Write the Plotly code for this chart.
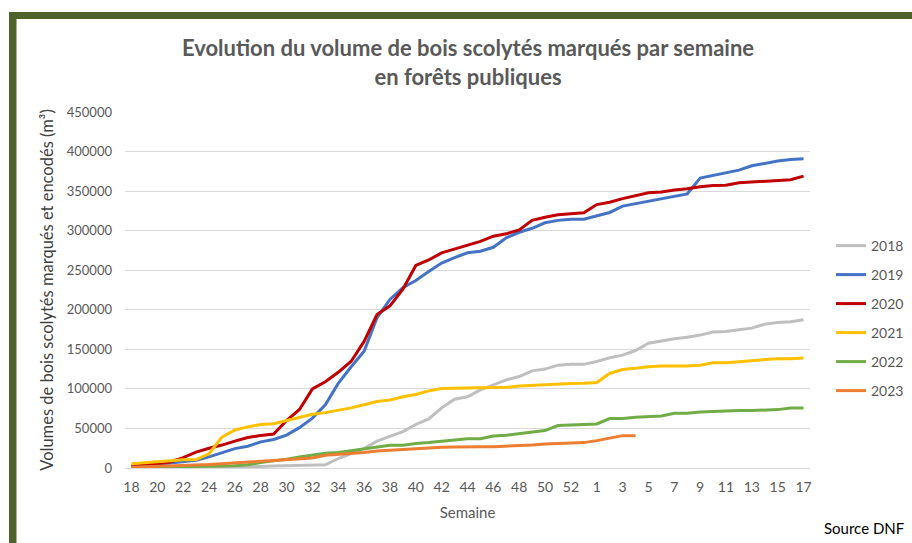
import plotly.graph_objects as go

weeks = [str(w) for w in list(range(18, 54)) + list(range(1, 18))]

y2018 = [200, 300, 400, 500, 600, 800, 1000, 1200, 1500, 1800, 2000, 2500, 3000, 3300, 3600, 4000,
         12000, 18000, 24500, 34000, 40000, 46000, 55000, 62000, 76000, 87000, 90000, 98700, 105000,
         111400, 115600, 122800, 125000, 130000, 131000, 131000, 134600, 139300, 142700, 148500,
         157800, 160800, 163300, 165400, 168000, 171800, 172600, 174700, 176800, 181900, 184000,
         184800, 187400]
y2019 = [2500, 3400, 4700, 6300, 7600, 9700, 14000, 19500, 24500, 27500, 33000, 36000, 41500, 51000,
         63000, 80000, 107000, 128000, 147500, 190000, 213000, 228000, 237000, 248500, 259000, 266000,
         272000, 274000, 279000, 291000, 298000, 303000, 310000, 313000, 314500, 314500, 319000,
         323000, 331000, 334000, 337000, 340000, 343000, 346500, 366500, 370000, 373000, 376500,
         382000, 385000, 388000, 390000, 391000]
y2020 = [2000, 4600, 5500, 7600, 13000, 20000, 25000, 29000, 34000, 38500, 41000, 43000, 60000, 74000,
         100000, 109000, 121000, 135000, 160000, 194000, 205000, 226000, 256000, 263000, 272000,
         277000, 282000, 286500, 293000, 296000, 301000, 313000, 317000, 320000, 321500, 322500,
         333000, 336000, 340500, 344000, 348000, 349000, 351500, 353000, 355500, 357000, 357500,
         360500, 361500, 362500, 363500, 364500, 369000]
y2021 = [5500, 6800, 8500, 9700, 10500, 10600, 18000, 39000, 48000, 52000, 55000, 56000, 60000, 64000,
         68000, 70000, 73000, 76000, 80000, 84000, 86000, 90000, 93000, 97500, 100500, 100800, 102000,
         102000, 102000, 102000, 103500, 104500, 105000, 106000, 106800, 107000, 108000, 119500,
         124500, 126000, 128000, 129000, 129000, 129000, 130000, 133000, 133000, 134000, 135500,
         137000, 138000, 138000, 139000]
y2022 = [500, 800, 1000, 1200, 1500, 1800, 2000, 2500, 3000, 4000, 7000, 9000, 11000, 14000, 16000,
         18600, 19500, 21600, 24000, 26700, 28800, 28800, 31000, 32200, 34000, 35400, 37100, 37100,
         40500, 41400, 43500, 44700, 47300, 53600, 54000, 54900, 55700, 62500, 62500, 64100, 65000,
         65800, 69200, 69200, 70900, 71700, 71700, 72600, 72600, 73400, 73800, 75900, 75900]
y2023 = [1000, 1500, 2000, 2500, 3000, 3400, 4500, 5500, 6500, 7500, 9000, 10000, 11000, 12000, 12700,
         16000, 17000, 18200, 19500, 21600, 22500, 23700, 24600, 25800, 26200, 26500, 27000, 27000,
         27000, 27800, 27800, 29100, 30400, 31200, 31600, 32100, 34600, 38000, 40900, 40900]

series = [("2018", y2018, "#BFBFBF"), ("2019", y2019, "#4472C4"), ("2020", y2020, "#C00000"),
          ("2021", y2021, "#FFC000"), ("2022", y2022, "#70AD47"), ("2023", y2023, "#ED7D31")]

FONT = "Lato, 'Open Sans', sans-serif"

fig = go.Figure()
for name, vals, col in series:
    fig.add_trace(go.Scatter(x=weeks[:len(vals)], y=vals, mode="lines", name=name,
                             legendgroup=name,
                             line=dict(color=col, width=3)))

W, H = 912, 543
L, R, T, B = 125, 810, 112, 468
pw, ph = R - L, B - T

def px(x):
    return (x - L) / pw

def py(y):
    return (B - y) / ph

frame = "#4F6228"
shapes = [
    dict(type="rect", xref="paper", yref="paper", x0=px(9), x1=px(913), y0=py(12), y1=py(19),
         fillcolor=frame, line_width=0, layer="above"),
    dict(type="rect", xref="paper", yref="paper", x0=px(9), x1=px(16.5), y0=py(12), y1=py(545),
         fillcolor=frame, line_width=0, layer="above"),
]

fig.update_layout(
    width=W, height=H,
    margin=dict(l=L, r=W - R, t=T, b=H - B, autoexpand=False),
    paper_bgcolor="white", plot_bgcolor="white",
    font=dict(family=FONT, color="#595959", size=14),
    title=dict(text="<b>Evolution du volume de bois scolytés marqués par semaine<br>en forêts publiques</b>",
               x=px(468), xanchor="center", xref="paper", y=(H - 56) / H, yanchor="middle",
               font=dict(size=22, color="#595959", family=FONT)),
    xaxis=dict(type="category", categoryorder="array", categoryarray=weeks,
               range=[-0.5, len(weeks) - 0.5],
               tickvals=weeks[::2], ticktext=weeks[::2],
               showgrid=False, showline=True, linecolor="#D9D9D9", linewidth=1,
               ticks="", tickfont=dict(size=14, color="#595959"), ticklabelstandoff=6,
               title=dict(text="Semaine", font=dict(size=15, color="#595959"), standoff=13)),
    yaxis=dict(range=[0, 450000], tickvals=list(range(0, 450001, 50000)), tickformat="d",
               showgrid=True, gridcolor="#D9D9D9", gridwidth=1, zeroline=False,
               ticks="", tickfont=dict(size=13, color="#595959"), ticklabelstandoff=12,
               title=dict(text="Volumes de bois scolytés marqués et encodés (m³)",
                          font=dict(size=16.5, color="#404040"), standoff=8)),
    legend=dict(x=px(831), xanchor="left", y=py(230), yanchor="top",
                font=dict(size=14, color="#595959"), tracegroupgap=7.8,
                bgcolor="rgba(0,0,0,0)"),
    shapes=shapes,
    annotations=[dict(text="Source DNF", xref="paper", yref="paper", x=px(906), y=py(528),
                      xanchor="right", yanchor="middle", showarrow=False,
                      font=dict(size=15, color="#000000", family=FONT))],
)

fig.write_html("out.html", config={"displayModeBar": False},
               post_script="document.body.style.margin='0';")
